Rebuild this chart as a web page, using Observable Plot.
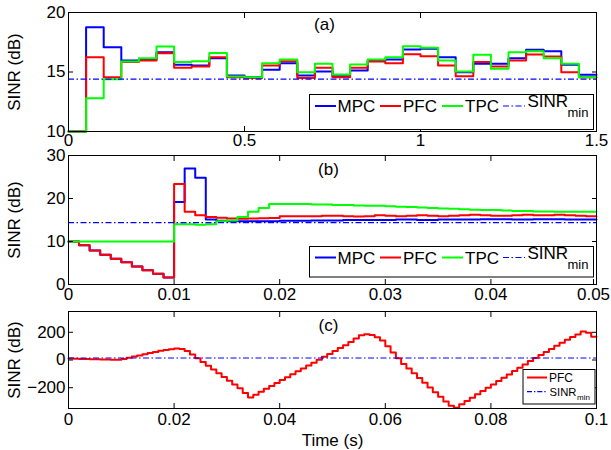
<!DOCTYPE html>
<html>
<head>
<meta charset="utf-8">
<script src="https://cdn.jsdelivr.net/npm/d3@7"></script>
<script src="https://cdn.jsdelivr.net/npm/@observablehq/plot@0.6"></script>
<style>
  html, body { margin: 0; padding: 0; background: #fff; }
  #chart { position: relative; width: 611px; height: 450px; overflow: hidden; font-family: "Liberation Sans", Arial, sans-serif; }
  #chart svg { display: block; }
  #legends { position: absolute; left: 0; top: 0; pointer-events: none; }
</style>
</head>
<body>
<div id="chart"></div>
<script>
// ---------- Panel (a): 0 .. 1.5 s, steps of 0.05 s ----------
const stepA = 0.05, endA = 1.5;
const mpcA = [10, 18.77, 17.08, 15.97, 16.05, 16.67, 15.6, 15.55, 16.16, 14.7,
              14.56, 15.18, 15.74, 14.7, 15.04, 14.65, 15.13, 15.97, 16.05, 16.89,
              16.95, 16.25, 14.98, 15.69, 15.69, 16.16, 16.86, 16.75, 15.6, 14.76];
const pfcA = [10, 16.25, 14.56, 15.83, 15.97, 16.58, 15.35, 15.46, 16.25, 14.56,
              14.5, 15.55, 15.9, 14.5, 15.35, 14.56, 15.35, 15.88, 15.74, 16.5,
              16.33, 15.55, 14.65, 15.83, 15.46, 15.97, 16.47, 16.3, 14.98, 14.56];
const tpcA = [10, 12.8, 14.4, 15.88, 16.16, 17.14, 15.83, 15.9, 16.6, 14.62,
              14.56, 15.74, 16.05, 14.98, 15.69, 14.79, 15.63, 16.05, 16.25, 17.17,
              17.03, 15.97, 15.04, 16.44, 15.27, 16.67, 16.75, 16.16, 15.69, 14.56];

// ---------- Panel (b): 0 .. 0.05 s, steps of 0.001 s ----------
const stepB = 0.001, endB = 0.05;
const mpcB = [10.0, 9.1, 7.9, 6.9, 6.0, 5.2, 4.2, 3.3, 2.5, 1.6,
              19.2, 27.0, 24.8, 15.1, 14.8, 14.7, 14.7, 14.7, 14.7, 14.7,
              14.8, 14.8, 14.8, 14.9, 14.9, 14.9, 15.0, 15.0, 15.0, 15.0,
              15.0, 15.1, 15.1, 15.0, 15.0, 15.1, 15.1, 15.1, 15.1, 15.2,
              15.2, 15.2, 15.1, 15.1, 15.2, 15.2, 15.2, 15.1, 15.1, 15.1];
const pfcB = [10.0, 9.1, 7.9, 6.9, 6.0, 5.2, 4.2, 3.3, 2.5, 1.6,
              23.4, 16.9, 16.1, 15.7, 15.5, 15.35, 15.3, 15.35, 15.4, 15.45,
              15.9, 15.9, 15.9, 15.9, 16.0, 16.0, 15.9, 15.8, 15.9, 16.1,
              16.0, 15.9, 16.0, 16.1, 16.0, 15.9, 16.0, 16.1, 16.2, 16.1,
              16.0, 16.0, 16.1, 16.2, 16.1, 16.1, 16.2, 16.1, 16.0, 15.9];
const tpcB = [10, 10, 10, 10, 10, 10, 10, 10, 10, 10,
              14.0, 14.0, 13.9, 14.0, 14.7, 14.9, 15.7, 16.9, 17.8, 18.7,
              18.7, 18.7, 18.7, 18.6, 18.6, 18.5, 18.5, 18.4, 18.3, 18.3,
              18.2, 18.1, 18.0, 17.9, 17.8, 17.7, 17.6, 17.5, 17.4, 17.3,
              17.3, 17.2, 17.1, 17.1, 17.0, 17.0, 16.9, 16.9, 16.9, 16.9];

// ---------- Panel (c): 0 .. 0.1 s, steps of 0.001 s ----------
const stepC = 0.001, endC = 0.1;
const pfcC = [10, 9, 8, 7, 6, 5, 4, 3, 2, 1,
              8, 16, 25, 33, 42, 50, 58, 66, 72, 78,
              83, 80, 65, 40, 12, -15, -42, -69, -96, -123,
              -150, -177, -204, -238, -270, -250, -229, -208, -187, -166,
              -145, -124, -103, -82, -61, -40, -19, 2, 23, 44,
              65, 86, 107, 130, 155, 178, 186, 180, 165, 140,
              100, 55, 12, -28, -62, -96, -130, -164, -198, -232,
              -266, -300, -330, -345, -320, -296, -272, -248, -224, -200,
              -176, -152, -128, -104, -80, -56, -32, -8, 14, 36,
              58, 80, 102, 124, 146, 166, 184, 205, 196, 168];

const sinrMin = 14.4;

// ---------- Tick values ----------
const ticksAx = [0, 0.5, 1, 1.5];
const ticksAy = [10, 15, 20];
const ticksBx = [0, 0.01, 0.02, 0.03, 0.04, 0.05];
const ticksBy = [0, 10, 20, 30];
const ticksCx = [0, 0.02, 0.04, 0.06, 0.08, 0.1];
const ticksCy = [-200, 0, 200];

const colMPC = "#0000ff", colPFC = "#ff0000", colTPC = "#00ff00", colMin = "#0000ff";

function toSteps(values, step, end) {
  const rows = values.map((v, i) => ({t: +(i * step).toFixed(6), v}));
  rows.push({t: end, v: values[values.length - 1]});
  return rows;
}
const fmt = d => d < 0 ? "\u2212" + (-d) : String(d);

function makePanel(cfg) {
  const lastTick = cfg.xTicks[cfg.xTicks.length - 1];
  const mainTicks = cfg.lastDx ? cfg.xTicks.slice(0, -1) : cfg.xTicks;
  const marks = [
    ...cfg.series.map(s => Plot.line(s.data, {x: "t", y: "v", stroke: s.color, strokeWidth: 2, curve: "step-after"})),
    Plot.ruleY([sinrMin], {stroke: colMin, strokeWidth: 1.2, strokeDasharray: "6,2.5,1.5,2.5"}),
    Plot.frame({stroke: "black", strokeWidth: 1}),
    Plot.axisX({anchor: "bottom", ticks: mainTicks, tickSize: -5, tickPadding: cfg.xPad, tickFormat: fmt,
                label: cfg.xLabel || null, labelAnchor: "center", labelOffset: 37, labelArrow: "none"}),
    Plot.axisX({anchor: "top", ticks: cfg.xTicks, tickSize: -5, tickFormat: () => "", label: null}),
    Plot.axisY({anchor: "left", ticks: cfg.yTicks, tickSize: -5, tickPadding: 8, tickFormat: fmt,
                label: "SINR (dB)", labelAnchor: "center", labelOffset: 61, labelArrow: "none"}),
    Plot.axisY({anchor: "right", ticks: cfg.yTicks, tickSize: -5, tickFormat: () => "", label: null}),
    Plot.text([cfg.tag], {text: d => d, frameAnchor: "top", lineAnchor: "middle", dy: cfg.tagDy, dx: cfg.tagDx, fontSize: 17})
  ];
  if (cfg.lastDx) {
    marks.push(Plot.axisX({anchor: "bottom", ticks: [lastTick], tickSize: -5, tickPadding: cfg.xPad, tickFormat: fmt,
                           dx: cfg.lastDx, label: null}));
  }
  return Plot.plot({
    width: 611,
    height: cfg.height,
    marginLeft: 68, marginRight: 15, marginTop: cfg.mt, marginBottom: cfg.mb,
    style: {fontFamily: '"Liberation Sans", Arial, sans-serif', fontSize: "17px", color: "black", background: "white", overflow: "visible"},
    x: {domain: cfg.xDomain, label: null},
    y: {domain: cfg.yDomain, label: null},
    marks
  });
}

const chart = document.getElementById("chart");

chart.appendChild(makePanel({
  height: 152, mt: 12, mb: 21, xDomain: [0, 1.5], yDomain: [10, 20],
  xTicks: ticksAx, yTicks: ticksAy, xPad: 7, tag: "(a)", tagDy: 12, tagDx: -8,
  series: [
    {data: toSteps(mpcA, stepA, endA), color: colMPC},
    {data: toSteps(pfcA, stepA, endA), color: colPFC},
    {data: toSteps(tpcA, stepA, endA), color: colTPC}
  ]
}));
chart.appendChild(makePanel({
  height: 153, mt: 3, mb: 21, xDomain: [0, 0.05], yDomain: [0, 30],
  xTicks: ticksBx, yTicks: ticksBy, xPad: 8, tag: "(b)", tagDy: 14, tagDx: -4, lastDx: -3,
  series: [
    {data: toSteps(mpcB, stepB, endB), color: colMPC},
    {data: toSteps(pfcB, stepB, endB), color: colPFC},
    {data: toSteps(tpcB, stepB, endB), color: colTPC}
  ]
}));
chart.appendChild(makePanel({
  height: 145, mt: 6, mb: 42, xDomain: [0, 0.1], yDomain: [-350, 350],
  xTicks: ticksCx, yTicks: ticksCy, xPad: 9, tag: "(c)", tagDy: 14, tagDx: -4, xLabel: "Time (s)",
  series: [
    {data: toSteps(pfcC, stepC, endC), color: colPFC}
  ]
}));

// ---------- Legends ----------
const legendNames = ["MPC", "PFC", "TPC"];
const legendColors = [colMPC, colPFC, colTPC];
function bigLegend(top, lineY, textY, supY, subY, boxH) {
  let s = `<rect x="309.5" y="${top}" width="284" height="${boxH}" fill="white" stroke="black" stroke-width="1"/>`;
  const lineX = [[315, 336], [380, 401], [442, 463]];
  const textX = [337.5, 403, 465];
  legendNames.forEach((n, i) => {
    s += `<line x1="${lineX[i][0]}" x2="${lineX[i][1]}" y1="${lineY}" y2="${lineY}" stroke="${legendColors[i]}" stroke-width="2"/>`;
    s += `<text x="${textX[i]}" y="${textY}" font-size="17">${n}</text>`;
  });
  s += `<line x1="503" x2="525" y1="${lineY}" y2="${lineY}" stroke="${colMin}" stroke-width="1.2" stroke-dasharray="6,2.5,1.5,2.5"/>`;
  s += `<text x="527.5" y="${supY}" font-size="17">SINR</text>`;
  s += `<text x="567.5" y="${subY}" font-size="13">min</text>`;
  return s;
}
let lg = `<svg id="legends" width="611" height="450" xmlns="http://www.w3.org/2000/svg" font-family="Liberation Sans, Arial, sans-serif">`;
lg += bigLegend(94.5, 106, 112, 107, 116.5, 35);
lg += bigLegend(246.5, 257.5, 264.3, 259.3, 268.5, 30.5);
lg += `<rect x="523" y="369.5" width="72" height="34.5" fill="white" stroke="black" stroke-width="1"/>`;
lg += `<line x1="527" x2="547" y1="377.5" y2="377.5" stroke="${colPFC}" stroke-width="2"/>`;
lg += `<text x="549" y="381.8" font-size="12">PFC</text>`;
lg += `<line x1="527" x2="547" y1="391.7" y2="391.7" stroke="${colMin}" stroke-width="1.2" stroke-dasharray="5,2,1.3,2"/>`;
lg += `<text x="549.5" y="395.8" font-size="11.3">SINR</text>`;
lg += `<text x="577" y="400" font-size="8">min</text>`;
lg += `</svg>`;
chart.insertAdjacentHTML("beforeend", lg);
</script>
</body>
</html>
